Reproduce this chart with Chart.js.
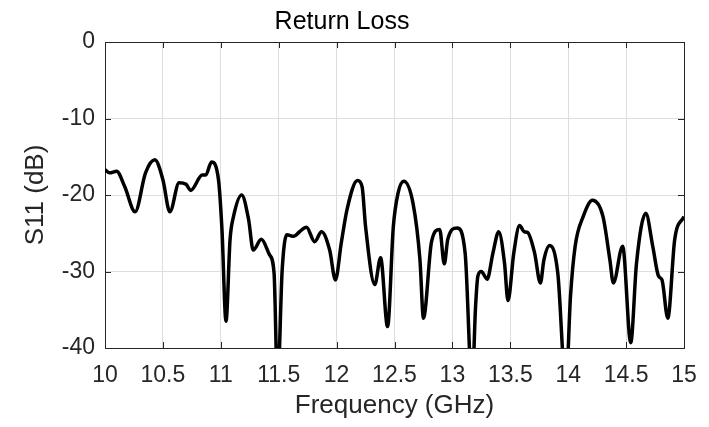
<!DOCTYPE html>
<html><head><meta charset="utf-8">
<script src="https://cdn.jsdelivr.net/npm/chart.js@4/dist/chart.umd.min.js"></script>
<style>html,body{margin:0;padding:0;background:#fff}#wrap{width:709px;height:427px}</style>
</head><body><div id="wrap"><canvas id="c" width="709" height="427"></canvas></div>
<script>
const frequencyGHz = [10.00,10.04,10.10,10.17,10.26,10.35,10.43,10.50,10.56,10.64,10.70,10.74,10.84,10.87,10.92,10.98,11.01,11.045,11.08,11.11,11.18,11.24,11.28,11.35,11.42,11.46,11.49,11.53,11.57,11.63,11.68,11.74,11.81,11.87,11.94,11.99,12.04,12.09,12.18,12.22,12.25,12.33,12.38,12.44,12.49,12.53,12.58,12.66,12.72,12.75,12.82,12.89,12.93,12.96,13.04,13.11,13.17,13.20,13.22,13.25,13.30,13.35,13.40,13.45,13.48,13.53,13.58,13.62,13.65,13.71,13.76,13.79,13.84,13.91,13.98,14.02,14.06,14.13,14.21,14.30,14.36,14.39,14.47,14.54,14.59,14.67,14.73,14.78,14.81,14.86,14.92,15.00];
const s11dB = [-16.7,-17.1,-16.9,-18.9,-22.2,-17.1,-15.4,-18.0,-22.2,-18.4,-18.6,-19.4,-17.4,-17.4,-15.7,-18.0,-24.5,-36.5,-25.8,-22.8,-20.0,-23.2,-27.2,-25.8,-27.8,-30.2,-45,-29.8,-25.2,-25.4,-24.8,-24.2,-26.1,-24.8,-27.2,-31.1,-26.3,-21.9,-18.1,-18.9,-24.1,-31.7,-28.2,-37.2,-24.1,-19.8,-18.2,-21.1,-28.5,-36.1,-26.1,-24.5,-29.0,-25.8,-24.3,-27.6,-45,-34.6,-30.6,-30.0,-31.0,-27.6,-24.8,-28.9,-33.8,-27.6,-24.0,-24.8,-24.9,-27.6,-31.5,-28.5,-26.6,-30.2,-45,-33.2,-26.7,-22.8,-20.7,-22.8,-28.5,-31.5,-26.7,-39.3,-28.9,-22.4,-26.7,-30.6,-31.1,-36.1,-25.8,-22.8];
const xTicks = [10,10.5,11,11.5,12,12.5,13,13.5,14,14.5,15];
const yTicks = [0,-10,-20,-30,-40];
const chartTitle = 'Return Loss';
const xLabel = 'Frequency (GHz)';
const yLabel = 'S11 (dB)';

const points = frequencyGHz.map((f, i) => ({x: f, y: s11dB[i]}));
const FONT = '"Liberation Sans", Arial, Helvetica, sans-serif';
const AXIS_COLOR = '#262626';

const boxPlugin = {
  id: 'matlabBox',
  beforeDatasetsDraw(chart) {
    const {ctx, chartArea: a, scales: {x, y}} = chart;
    const tl = 6;
    ctx.save();
    ctx.strokeStyle = AXIS_COLOR;
    ctx.lineWidth = 1;
    ctx.beginPath();
    xTicks.forEach(v => {
      const px = Math.round(x.getPixelForValue(v)) + 0.5;
      ctx.moveTo(px, a.bottom); ctx.lineTo(px, a.bottom - tl);
      ctx.moveTo(px, a.top); ctx.lineTo(px, a.top + tl);
    });
    yTicks.forEach(v => {
      const py = Math.round(y.getPixelForValue(v)) + 0.5;
      ctx.moveTo(a.left, py); ctx.lineTo(a.left + tl, py);
      ctx.moveTo(a.right, py); ctx.lineTo(a.right - tl, py);
    });
    ctx.stroke();
    ctx.strokeRect(Math.round(a.left) + 0.5, Math.round(a.top) + 0.5, Math.round(a.right - a.left), Math.round(a.bottom - a.top));
    ctx.restore();
  }
};

new Chart(document.getElementById('c'), {
  type: 'line',
  data: {
    datasets: [{
      data: points,
      borderColor: '#000000',
      borderWidth: 3.5,
      pointRadius: 0,
      fill: false,
      cubicInterpolationMode: 'monotone'
    }]
  },
  options: {
    responsive: false,
    animation: false,
    layout: {padding: {left: 0, right: 25, top: 0, bottom: 0}},
    plugins: {
      legend: {display: false},
      tooltip: {enabled: false},
      title: {
        display: true,
        text: chartTitle,
        color: '#000000',
        font: {family: FONT, size: 25, weight: 'normal', lineHeight: 1.2},
        padding: {top: 7, bottom: 5}
      }
    },
    scales: {
      x: {
        type: 'linear',
        min: 10, max: 15,
        afterBuildTicks: s => { s.ticks = xTicks.map(v => ({value: v})); },
        afterFit: s => { s.height = 79; s.paddingLeft = 0; s.paddingRight = 0; },
        ticks: {color: AXIS_COLOR, font: {family: FONT, size: 23}, padding: 14, maxRotation: 0, autoSkip: false,
                callback: v => String(v)},
        grid: {color: '#dedede', lineWidth: 1, drawTicks: false},
        border: {display: false},
        title: {display: true, text: xLabel, color: AXIS_COLOR, font: {family: FONT, size: 26}, padding: {top: 0, bottom: 6}}
      },
      y: {
        type: 'linear',
        min: -40, max: 0,
        afterBuildTicks: s => { s.ticks = yTicks.map(v => ({value: v})); },
        afterFit: s => { s.width = 105; },
        ticks: {color: AXIS_COLOR, font: {family: FONT, size: 23}, padding: 10, callback: v => String(v)},
        grid: {color: '#dedede', lineWidth: 1, drawTicks: false},
        border: {display: false},
        title: {display: true, text: yLabel, color: AXIS_COLOR, font: {family: FONT, size: 26}, padding: {top: 20, bottom: 0}}
      }
    }
  },
  plugins: [boxPlugin]
});
</script>
</body></html>
